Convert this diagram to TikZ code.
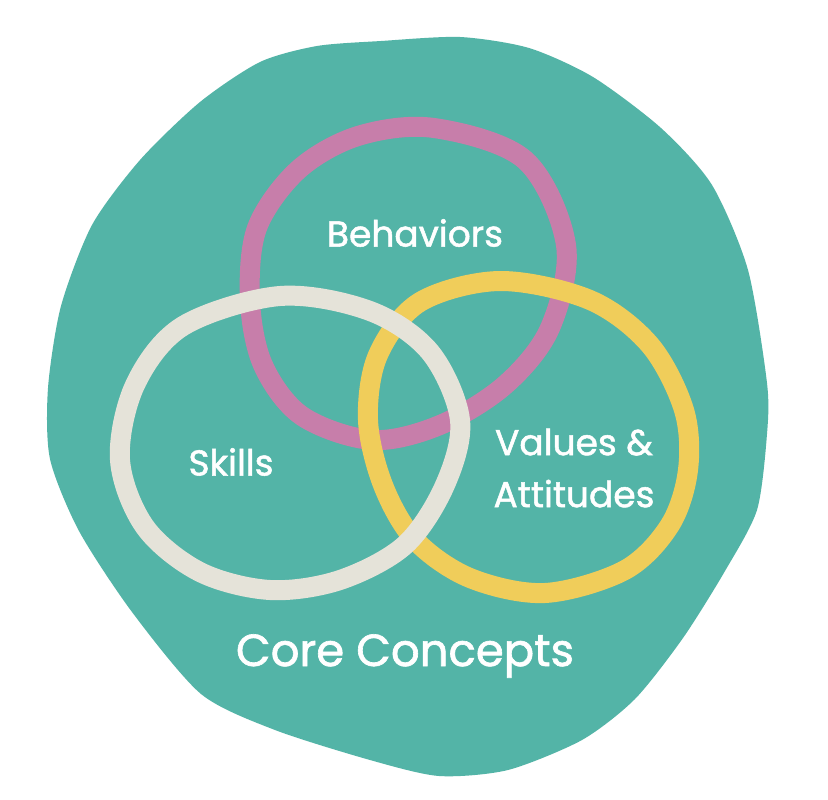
\documentclass[tikz,border=0pt]{standalone}
\usepackage{fontspec}
\setmainfont{Poppins}[FakeBold=1.4, AutoFakeBold=1.4]
\usepackage{tikz}
\usetikzlibrary{positioning}
\definecolor{coreteal}{RGB}{83, 180, 167}
\definecolor{behavpink}{RGB}{199, 126, 170}
\definecolor{valueyellow}{RGB}{240, 205, 90}
\definecolor{skillcream}{RGB}{229, 227, 217}

\begin{document}
\begin{tikzpicture}[x=1pt, y=-1pt,
    ring/.style={line width=20pt, line join=round},
    lbl/.style={text=white, align=center, font=\fontsize{36}{52}\selectfont\bfseries}]
    \fill[white] (0,0) rectangle (828,800);
    \useasboundingbox (0,0) rectangle (828,800);

    % outer blob
    \fill[coreteal] plot[smooth cycle, tension=0.45] coordinates {
      (460,37) (529,48) (593,77) (661,128) (712,185) (748,270)
      (767,383) (767,434) (757,510) (725,571) (683,638) (635,699) (582,740)
      (508,770) (439,776) (370,760) (275,730) (201,694) (132,612) (79,531)
      (50,459) (48,388) (61,306) (92,225) (140,160) (200,102) (260,62)
      (317,46) (381,41)};

    % three rings: pink under yellow under cream
    \draw[ring, behavpink] plot[smooth cycle, tension=0.55] coordinates {
      (434,128) (525,160) (566,245) (550,328) (505,385) (440,425) (372,440)
      (302,416) (263,365) (250,300) (257,228) (298,170) (358,136)};
    \draw[ring, valueyellow] plot[smooth cycle, tension=0.55] coordinates {
      (500,281) (590,300) (650,345) (684,410) (688,470) (670,525) (625,570)
      (545,593) (470,578) (415,540) (383,485) (368,420) (378,355) (420,302)};
    \draw[ring, skillcream] plot[smooth cycle, tension=0.55] coordinates {
      (280,296) (370,311) (430,352) (460,420) (445,485) (405,545) (340,580)
      (270,590) (200,572) (145,527) (120,460) (135,385) (183,326)};

    \node[lbl] (behaviors) at (415,233) {Behaviors};
    \node[lbl] (skills) at (231,462) {Skills};
    \node[lbl] (values) at (574,468) {Values \&\\Attitudes};
    \node[lbl, font=\fontsize{45}{50}\selectfont\bfseries] (core) at (405,656) {Core Concepts};
\end{tikzpicture}
\end{document}
